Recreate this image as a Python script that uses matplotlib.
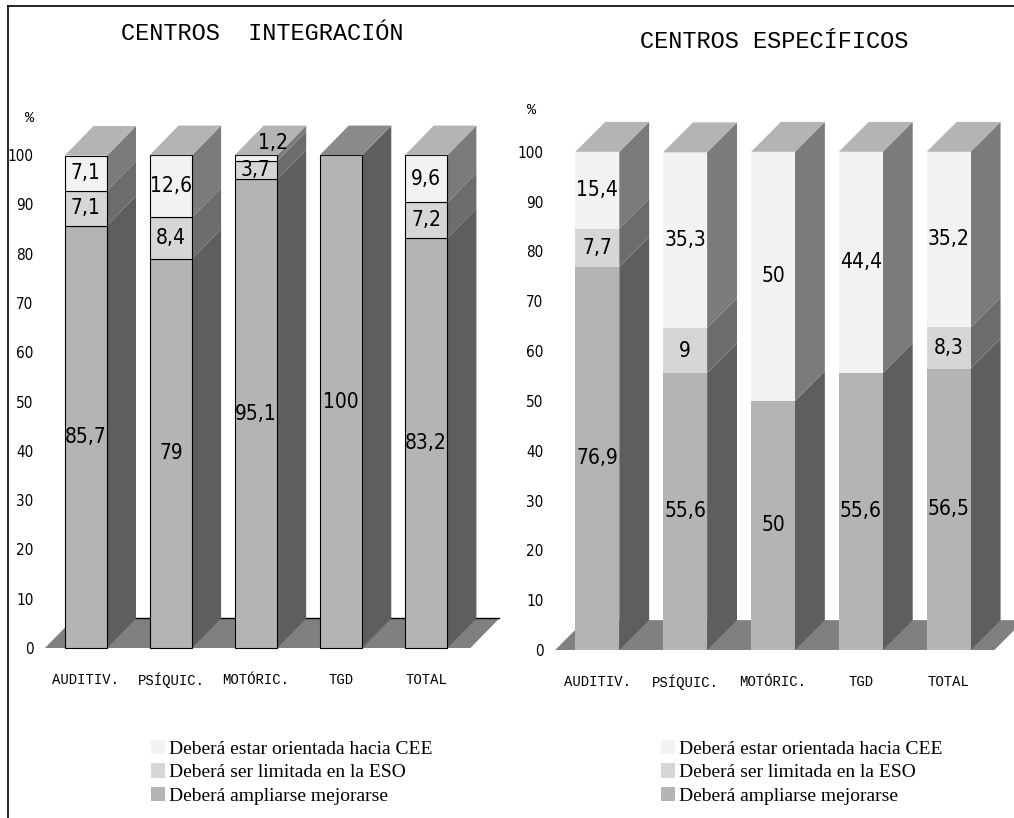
"""Stacked pseudo-3D bars: opinion about integration by disability type."""

import matplotlib
matplotlib.use("Agg")
import matplotlib.pyplot as plt
from matplotlib import font_manager
from matplotlib.patches import Polygon, Rectangle, Patch
from matplotlib.lines import Line2D
import numpy as np

categories = ["AUDITIV.", "PSÍQUIC.", "MOTÓRIC.", "TGD", "TOTAL"]
series_names = [
    "Deberá estar orientada hacia CEE",
    "Deberá ser limitada en la ESO",
    "Deberá ampliarse mejorarse",
]

# bottom -> top of the stack
integ_ampliar = [85.7, 79, 95.1, 100, 83.2]
integ_eso = [7.1, 8.4, 3.7, 0, 7.2]
integ_cee = [7.1, 12.6, 1.2, 0, 9.6]

espec_ampliar = [76.9, 55.6, 50, 55.6, 56.5]
espec_eso = [7.7, 9, 0, 0, 8.3]
espec_cee = [15.4, 35.3, 50, 44.4, 35.2]

FRONT = ["#b4b4b4", "#d6d6d6", "#f2f2f2"]
SIDE = ["#5e5e5e", "#6c6c6c", "#7b7b7b"]
TOP = ["#8a8a8a", "#a0a0a0", "#b4b4b4"]

W, DX, DY = 0.5, 0.34, 6.0
MONO = ["Liberation Mono", "DejaVu Sans Mono"]
SERIF = ["Liberation Serif", "DejaVu Serif"]

names = {f.name for f in font_manager.fontManager.ttflist}
if "Liberation Sans Narrow" in names:
    NARROW = dict(family="Liberation Sans Narrow")
else:
    NARROW = dict(family="DejaVu Sans", stretch="condensed")


def fmt(v):
    return f"{v:g}".replace(".", ",")


def draw_panel(ax, stack, edge, back_line):
    n = len(categories)
    fl0, fl1 = -0.48, n - 0.48
    ax.add_patch(Polygon([(fl0, 0), (fl1, 0), (fl1 + DX, DY), (fl0 + DX, DY)],
                         fc="#808080", ec="none", clip_on=False, zorder=1))
    if back_line:
        ax.plot([fl0 + DX, fl1 + DX], [DY, DY], color="black", lw=1, zorder=1.5,
                clip_on=False)
    for i in range(n):
        x0, x1 = i - W / 2, i + W / 2
        bottom = 0
        last = 0
        for s, vals in enumerate(stack):
            v = vals[i]
            if v <= 0:
                continue
            ax.add_patch(Polygon([(x1, bottom), (x1 + DX, bottom + DY),
                                  (x1 + DX, bottom + v + DY), (x1, bottom + v)],
                                 fc=SIDE[s], ec="none", zorder=2, clip_on=False))
            ax.add_patch(Rectangle((x0, bottom), W, v, fc=FRONT[s], ec=edge,
                                   lw=0.8, zorder=3, clip_on=False))
            if v < 2:
                ax.text(i + DX * 0.6, bottom + v + DY * 0.4, fmt(v), ha="center",
                        va="center", fontsize=15, zorder=5, **NARROW)
            else:
                ax.text(i, bottom + v / 2, fmt(v), ha="center", va="center",
                        fontsize=15, zorder=5, **NARROW)
            bottom += v
            last = s
        ax.add_patch(Polygon([(x0, bottom), (x1, bottom), (x1 + DX, bottom + DY),
                              (x0 + DX, bottom + DY)],
                             fc=TOP[last], ec="none", zorder=4, clip_on=False))

    ax.set_ylim(0, 112)
    ax.set_yticks(np.arange(0, 101, 10))
    ax.set_yticklabels([str(t) for t in range(0, 101, 10)], fontsize=11, **NARROW)
    ax.set_xticks(range(n))
    ax.set_xticklabels(categories, family=MONO, fontsize=10)
    ax.tick_params(length=0, axis="y", pad=4)
    ax.tick_params(length=0, axis="x", pad=18)
    for sp in ax.spines.values():
        sp.set_visible(False)
    ax.patch.set_visible(False)


fig = plt.figure(figsize=(10.14, 8.18), dpi=100)

ax1 = fig.add_axes([39 / 1014, 1 - 648 / 818, 468 / 1014, 552 / 818])
ax1.set_xlim(-0.55, 4.95)
draw_panel(ax1, [integ_ampliar, integ_eso, integ_cee], edge="black", back_line=True)

ax2 = fig.add_axes([549 / 1014, 1 - 650 / 818, 470 / 1014, 558 / 818])
ax2.set_xlim(-0.55, 4.8)
draw_panel(ax2, [espec_ampliar, espec_eso, espec_cee], edge="none", back_line=False)

fig.text(262 / 1014, 1 - 33 / 818, "CENTROS  INTEGRACIÓN", ha="center", va="center",
         family=MONO, fontsize=17)
fig.text(774 / 1014, 1 - 42 / 818, "CENTROS ESPECÍFICOS", ha="center", va="center",
         family=MONO, fontsize=17)
fig.text(30 / 1014, 1 - 118 / 818, "%", ha="center", va="center", family=MONO, fontsize=11)
fig.text(532 / 1014, 1 - 110 / 818, "%", ha="center", va="center", family=MONO, fontsize=11)

handles = [Patch(fc=FRONT[2], ec="none"), Patch(fc=FRONT[1], ec="none"),
           Patch(fc=FRONT[0], ec="none")]
labels = [series_names[0], series_names[1], series_names[2]]
for x in (141, 651):
    fig.legend(handles, labels, loc="upper left", bbox_to_anchor=(x / 1014, 1 - 730 / 818),
               frameon=False, handlelength=0.75, handleheight=0.75, handletextpad=0.2,
               labelspacing=0.3, borderpad=0, prop={"family": SERIF, "size": 14})

fig.add_artist(Line2D([8 / 1014, 8 / 1014], [0, 1 - 6 / 818], transform=fig.transFigure,
                      color="black", lw=1.2))
fig.add_artist(Line2D([8 / 1014, 1], [1 - 6 / 818, 1 - 6 / 818], transform=fig.transFigure,
                      color="black", lw=1.2))

fig.savefig("out.png", dpi=100)
